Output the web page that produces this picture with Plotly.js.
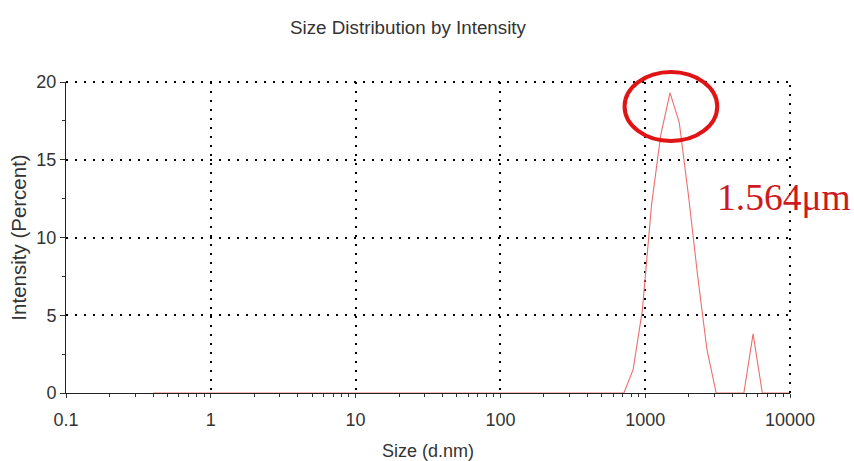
<!DOCTYPE html>
<html>
<head>
<meta charset="utf-8">
<script src="https://cdn.plot.ly/plotly-3.0.1.min.js"></script>
<style>
  html, body { margin: 0; padding: 0; background: #ffffff; }
  #chart { width: 854px; height: 461px; }
</style>
</head>
<body>
<div id="chart"></div>
<script>
// Size classes (d.nm) of the DLS size distribution
const sizeNm = [
  0.4, 0.4632, 0.5365, 0.6213, 0.7195, 0.8332, 0.9649, 1.117, 1.294, 1.499,
  1.736, 2.010, 2.328, 2.696, 3.122, 3.615, 4.187, 4.849, 5.615, 6.503,
  7.531, 8.721, 10.10, 11.70, 13.54, 15.69, 18.17, 21.04, 24.36, 28.21,
  32.67, 37.84, 43.82, 50.75, 58.77, 68.06, 78.82, 91.28, 105.7, 122.4,
  141.8, 164.2, 190.1, 220.2, 255.0, 295.3, 342.0, 396.1, 458.7, 531.2,
  615.1, 712.4, 825.0, 955.4, 1106, 1281, 1484, 1718, 1990, 2305,
  2669, 3091, 3580, 4145, 4801, 5560, 6439, 7456, 8635, 10000
];

// Intensity (Percent) for each size class
const intensityPct = [
  0, 0, 0, 0, 0, 0, 0, 0, 0, 0,
  0, 0, 0, 0, 0, 0, 0, 0, 0, 0,
  0, 0, 0, 0, 0, 0, 0, 0, 0, 0,
  0, 0, 0, 0, 0, 0, 0, 0, 0, 0,
  0, 0, 0, 0, 0, 0, 0, 0, 0, 0,
  0, 0, 1.5, 5.3, 12.1, 16.6, 19.3, 17.4, 12.7, 7.5,
  2.8, 0, 0, 0, 0, 3.8, 0, 0, 0, 0
];

// Axis ticks
const xTickVals = [0.1, 1, 10, 100, 1000, 10000];
const xTickText = ['0.1', '1', '10', '100', '1000', '10000'];
const yTickVals = [0, 5, 10, 15, 20];
const yTickText = ['0', '5', '10', '15', '20'];
const yMinorVals = [2.5, 7.5, 12.5, 17.5];

// Peak label
const peakLabel = '1.564\u03bcm';

// minor ticks at 2..9 of every decade
const xMinorVals = [];
for (let d = 0; d < xTickVals.length - 1; d++) {
  for (let k = 2; k <= 9; k++) xMinorVals.push(xTickVals[d] * k);
}

const FONT = 'Liberation Sans, Arial, sans-serif';
const dotted = '2px,7px';

const trace = {
  x: sizeNm,
  y: intensityPct,
  type: 'scatter',
  mode: 'lines',
  line: { color: 'rgb(236,110,110)', width: 1.1 },
  hoverinfo: 'x+y',
  showlegend: false
};

const layout = {
  width: 854,
  height: 461,
  margin: { l: 66, r: 64, t: 82, b: 68, pad: 0 },
  paper_bgcolor: '#ffffff',
  plot_bgcolor: '#ffffff',
  font: { family: FONT, size: 18, color: '#333333' },
  title: {
    text: 'Size Distribution by Intensity',
    font: { family: FONT, size: 18.8, color: '#333333' },
    xref: 'container', x: 408 / 854, xanchor: 'center',
    yref: 'container', y: 1 - 27 / 461, yanchor: 'middle'
  },
  xaxis: {
    type: 'log',
    range: [-1, 4],
    tickmode: 'array',
    tickvals: xTickVals,
    ticktext: xTickText,
    ticks: 'outside',
    ticklen: 4,
    tickwidth: 1,
    tickcolor: '#333333',
    minor: { tickmode: 'array', tickvals: xMinorVals, ticks: 'outside', ticklen: 3, tickcolor: '#333333', showgrid: false },
    showline: true,
    linecolor: '#222222',
    linewidth: 1,
    showgrid: true,
    gridcolor: '#000000',
    gridwidth: 2,
    griddash: dotted,
    zeroline: false,
    ticklabelstandoff: 6,
    title: { text: 'Size (d.nm)', font: { family: FONT, size: 18, color: '#333333' }, standoff: 16 },
    automargin: false
  },
  xaxis2: {
    type: 'log',
    range: [-1, 4],
    overlaying: 'x',
    anchor: 'y',
    tickmode: 'array',
    tickvals: xTickVals.concat(xMinorVals),
    ticks: 'inside',
    ticklen: 3,
    tickcolor: '#333333',
    showticklabels: false,
    showgrid: false,
    showline: false,
    zeroline: false
  },
  yaxis: {
    range: [0, 20],
    tickmode: 'array',
    tickvals: yTickVals,
    ticktext: yTickText,
    ticks: 'outside',
    ticklen: 5,
    tickcolor: '#333333',
    minor: { tickmode: 'array', tickvals: yMinorVals, ticks: 'outside', ticklen: 3, tickcolor: '#333333', showgrid: false },
    showline: true,
    linecolor: '#222222',
    linewidth: 1,
    showgrid: true,
    gridcolor: '#000000',
    gridwidth: 2,
    griddash: dotted,
    zeroline: false,
    title: { text: 'Intensity (Percent)', font: { family: FONT, size: 20.5, color: '#333333' }, standoff: 4 },
    automargin: false
  },
  yaxis2: {
    range: [0, 20],
    overlaying: 'y',
    anchor: 'x',
    tickmode: 'array',
    tickvals: yTickVals.concat(yMinorVals),
    ticks: 'inside',
    ticklen: 3,
    tickcolor: '#333333',
    showticklabels: false,
    showgrid: false,
    showline: false,
    zeroline: false
  },
  shapes: [
    // dotted frame along the top and right edges
    { type: 'line', xref: 'paper', yref: 'paper', x0: 0, x1: 1, y0: 1, y1: 1,
      line: { color: '#000000', width: 2, dash: dotted }, layer: 'above' },
    { type: 'line', xref: 'paper', yref: 'paper', x0: 1, x1: 1, y0: 0, y1: 1,
      line: { color: '#000000', width: 2, dash: dotted }, layer: 'above' },
    // ring highlighting the main peak
    { type: 'circle', xref: 'paper', yref: 'paper',
      x0: 0.7715, x1: 0.8995, y0: 0.81, y1: 1.0322,
      line: { color: '#e01414', width: 4 }, fillcolor: 'rgba(0,0,0,0)', layer: 'above' }
  ],
  annotations: [
    { xref: 'paper', yref: 'paper', x: 0.897, y: 0.63, xanchor: 'left', yanchor: 'middle',
      text: peakLabel, showarrow: false,
      font: { family: 'Liberation Serif, Times New Roman, serif', size: 37.5, color: '#cc1a1f' } }
  ]
};

Plotly.newPlot('chart', [trace], layout, { staticPlot: true, displayModeBar: false });
</script>
</body>
</html>
